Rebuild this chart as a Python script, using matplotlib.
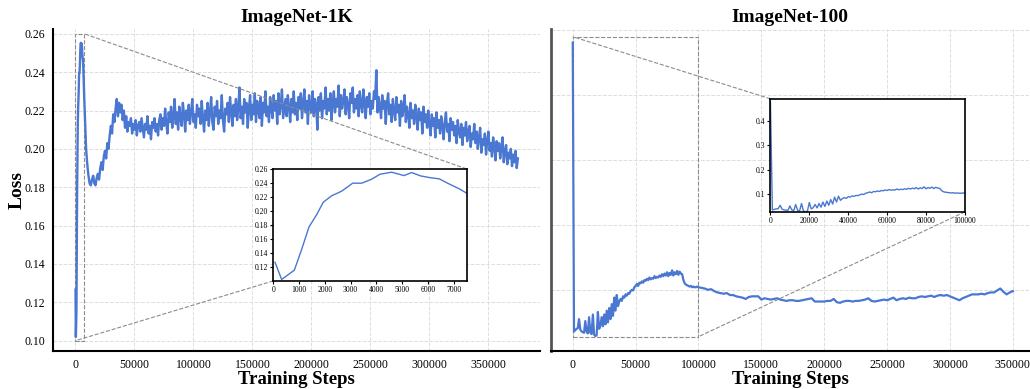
import numpy as np
import matplotlib
matplotlib.use("Agg")
import matplotlib.pyplot as plt
from mpl_toolkits.axes_grid1.inset_locator import mark_inset

plt.rcParams["font.family"] = ["Liberation Serif", "DejaVu Serif"]

BLUE = "#4a77d1"

# ImageNet-1K: early warm-up segment (shown zoomed in the inset)
steps_1k_early = [65, 323, 815, 1100, 1384, 1680, 1940, 2264, 2652, 3079, 3428,
                  3816, 4140, 4592, 5071, 5369, 5718, 6054, 6442, 6791, 7244, 7503]
loss_1k_early = [0.1266, 0.102, 0.1153, 0.145, 0.177, 0.1945, 0.2125, 0.2216,
                 0.2282, 0.2396, 0.2396, 0.2453, 0.2524, 0.2553, 0.2505, 0.2548,
                 0.250, 0.2477, 0.2458, 0.2391, 0.2311, 0.2253]

# ImageNet-1K: rest of training, logged every 1000 steps from 9000
start_1k, every_1k = 9000, 1000
loss_1k_rest = [
    0.200, 0.192, 0.186, 0.182, 0.181, 0.184, 0.186, 0.182, 0.181, 0.185,
    0.187, 0.184, 0.190, 0.193, 0.189, 0.196, 0.199, 0.195, 0.203, 0.200,
    0.207, 0.212, 0.208, 0.218, 0.214, 0.221, 0.226, 0.217, 0.224, 0.219,
    0.223, 0.215, 0.220, 0.211, 0.217, 0.209, 0.214, 0.212, 0.216, 0.208,
    0.213, 0.210, 0.215, 0.207, 0.212, 0.214, 0.209, 0.216, 0.211, 0.206,
    0.213, 0.210, 0.217, 0.208, 0.212, 0.205, 0.214, 0.211, 0.216, 0.209,
    0.213, 0.207, 0.215, 0.218, 0.210, 0.216, 0.212, 0.221, 0.213, 0.208,
    0.219, 0.214, 0.222, 0.211, 0.217, 0.226, 0.213, 0.219, 0.210, 0.222,
    0.216, 0.212, 0.224, 0.218, 0.209, 0.220, 0.215, 0.223, 0.213, 0.219,
    0.226, 0.214, 0.218, 0.211, 0.223, 0.217, 0.221, 0.213, 0.225, 0.216,
    0.209, 0.220, 0.215, 0.224, 0.212, 0.219, 0.227, 0.214, 0.210, 0.222,
    0.217, 0.225, 0.213, 0.220, 0.216, 0.228, 0.215, 0.209, 0.221, 0.218,
    0.224, 0.214, 0.227, 0.219, 0.212, 0.223, 0.217, 0.226, 0.215, 0.221,
    0.232, 0.216, 0.222, 0.213, 0.226, 0.219, 0.224, 0.211, 0.221, 0.228,
    0.215, 0.223, 0.218, 0.229, 0.214, 0.225, 0.220, 0.216, 0.227, 0.212,
    0.224, 0.219, 0.230, 0.217, 0.222, 0.214, 0.227, 0.221, 0.216, 0.228,
    0.220, 0.225, 0.213, 0.229, 0.218, 0.223, 0.231, 0.216, 0.221, 0.226,
    0.217, 0.228, 0.222, 0.214, 0.226, 0.219, 0.230, 0.218, 0.224, 0.215,
    0.227, 0.221, 0.229, 0.216, 0.224, 0.231, 0.219, 0.225, 0.213, 0.228,
    0.222, 0.219, 0.230, 0.217, 0.226, 0.223, 0.210, 0.227, 0.220, 0.229,
    0.216, 0.225, 0.221, 0.232, 0.218, 0.226, 0.220, 0.229, 0.215, 0.224,
    0.230, 0.219, 0.226, 0.222, 0.233, 0.217, 0.228, 0.221, 0.225, 0.231,
    0.218, 0.227, 0.223, 0.216, 0.229, 0.224, 0.232, 0.219, 0.226, 0.221,
    0.228, 0.217, 0.230, 0.223, 0.219, 0.231, 0.224, 0.216, 0.227, 0.222,
    0.229, 0.218, 0.225, 0.221, 0.230, 0.226, 0.241, 0.219, 0.227, 0.222,
    0.216, 0.228, 0.221, 0.225, 0.213, 0.224, 0.229, 0.218, 0.223, 0.214,
    0.226, 0.220, 0.215, 0.227, 0.219, 0.223, 0.212, 0.225, 0.217, 0.221,
    0.228, 0.214, 0.222, 0.218, 0.211, 0.224, 0.216, 0.220, 0.213, 0.223,
    0.217, 0.210, 0.221, 0.215, 0.219, 0.208, 0.222, 0.214, 0.218, 0.211,
    0.220, 0.213, 0.207, 0.218, 0.212, 0.216, 0.206, 0.219, 0.211, 0.215,
    0.208, 0.217, 0.212, 0.205, 0.214, 0.219, 0.209, 0.213, 0.204, 0.216,
    0.210, 0.214, 0.207, 0.212, 0.203, 0.215, 0.209, 0.206, 0.213, 0.202,
    0.211, 0.207, 0.214, 0.204, 0.209, 0.212, 0.201, 0.208, 0.205, 0.213,
    0.203, 0.209, 0.200, 0.206, 0.211, 0.198, 0.205, 0.202, 0.208, 0.197,
    0.204, 0.209, 0.199, 0.203, 0.196, 0.206, 0.201, 0.194, 0.204, 0.199,
    0.203, 0.195, 0.201, 0.206, 0.193, 0.199, 0.202, 0.192, 0.198, 0.195,
    0.200, 0.191, 0.197, 0.193, 0.199, 0.190, 0.195,
]

# ImageNet-100: first 100k steps, every 1000 steps
start_100a, every_100a = 0, 1000
loss_100_early = [
    0.480, 0.036, 0.038, 0.040, 0.041, 0.055, 0.039, 0.036, 0.035, 0.034,
    0.052, 0.036, 0.033, 0.058, 0.034, 0.032, 0.062, 0.031, 0.029, 0.030,
    0.066, 0.040, 0.045, 0.058, 0.044, 0.062, 0.047, 0.068, 0.050, 0.072,
    0.055, 0.078, 0.060, 0.088, 0.068, 0.092, 0.075, 0.082, 0.086, 0.083,
    0.090, 0.088, 0.093, 0.091, 0.095, 0.094, 0.098, 0.100, 0.099, 0.104,
    0.106, 0.109, 0.106, 0.111, 0.110, 0.113, 0.111, 0.115, 0.114, 0.117,
    0.115, 0.119, 0.116, 0.118, 0.117, 0.121, 0.118, 0.120, 0.119, 0.122,
    0.120, 0.124, 0.121, 0.125, 0.122, 0.127, 0.121, 0.126, 0.123, 0.130,
    0.122, 0.127, 0.124, 0.129, 0.123, 0.128, 0.125, 0.124, 0.115, 0.110,
    0.108, 0.107, 0.106, 0.105, 0.106, 0.104, 0.105, 0.104, 0.104, 0.105,
    0.104,
]

# ImageNet-100: after 100k steps, every 2500 steps
start_100b, every_100b = 102500, 2500
loss_100_late = [
    0.103, 0.102, 0.100, 0.101, 0.098, 0.096, 0.095, 0.094, 0.095, 0.092,
    0.092, 0.090, 0.089, 0.088, 0.086, 0.089, 0.090, 0.090, 0.090, 0.085,
    0.087, 0.086, 0.085, 0.086, 0.087, 0.085, 0.084, 0.083, 0.084, 0.084,
    0.083, 0.083, 0.084, 0.085, 0.086, 0.087, 0.082, 0.082, 0.082, 0.082,
    0.083, 0.083, 0.086, 0.081, 0.080, 0.082, 0.083, 0.083, 0.082, 0.083,
    0.083, 0.084, 0.085, 0.087, 0.083, 0.082, 0.083, 0.084, 0.085, 0.084,
    0.086, 0.088, 0.084, 0.086, 0.087, 0.086, 0.088, 0.087, 0.087, 0.089,
    0.090, 0.089, 0.090, 0.091, 0.089, 0.091, 0.092, 0.091, 0.092, 0.090,
    0.088, 0.086, 0.084, 0.087, 0.089, 0.091, 0.093, 0.093, 0.093, 0.094,
    0.093, 0.095, 0.096, 0.096, 0.099, 0.102, 0.097, 0.093, 0.096, 0.098,
]

x_1k = np.concatenate([steps_1k_early,
                       start_1k + every_1k * np.arange(len(loss_1k_rest))])
y_1k = np.concatenate([loss_1k_early, loss_1k_rest])
x_100 = np.concatenate([start_100a + every_100a * np.arange(len(loss_100_early)),
                        start_100b + every_100b * np.arange(len(loss_100_late))])
y_100 = np.concatenate([loss_100_early, loss_100_late])


def style_main(ax):
    for s in ["top", "right"]:
        ax.spines[s].set_visible(False)
    for s in ["left", "bottom"]:
        ax.spines[s].set_linewidth(1.5)
    ax.grid(True, ls="--", lw=0.7, color="#dddddd")
    ax.set_axisbelow(True)
    ax.tick_params(labelsize=8.5, length=0, pad=6)
    ax.set_xticks(np.arange(0, 350001, 50000))
    ax.set_xlabel("Training Steps", fontsize=13.5, fontweight="bold", labelpad=0)


def style_inset(axins):
    for s in axins.spines.values():
        s.set_linewidth(1.2)
    axins.tick_params(labelsize=5.5, length=2, pad=1.5)


fig = plt.figure(figsize=(10.3, 3.89), dpi=100)

# ---- ImageNet-1K ----
ax1 = fig.add_axes([0.0518, 0.0985, 0.4725, 0.827])
ax1.plot(x_1k, y_1k, color=BLUE, lw=1.7)
ax1.set_xlim(-18750, 393750)
ax1.set_ylim(0.0948, 0.2625)
ax1.set_yticks(np.arange(0.10, 0.2601, 0.02))
ax1.yaxis.set_major_formatter(matplotlib.ticker.FormatStrFormatter("%.2f"))
style_main(ax1)
ax1.set_ylabel("Loss", fontsize=14, fontweight="bold", labelpad=-1)
ax1.set_title("ImageNet-1K", fontsize=14, fontweight="bold", pad=5)

ins1 = ax1.inset_axes([0.452, 0.217, 0.397, 0.348])
ins1.plot(x_1k, y_1k, color=BLUE, lw=1)
ins1.set_xlim(0, 7500)
ins1.set_ylim(0.10, 0.26)
ins1.set_xticks(np.arange(0, 7001, 1000))
ins1.set_yticks(np.arange(0.12, 0.2601, 0.02))
ins1.yaxis.set_major_formatter(matplotlib.ticker.FormatStrFormatter("%.2f"))
style_inset(ins1)
mark_inset(ax1, ins1, loc1=1, loc2=3, fc="none", ec="0.55", ls="--", lw=0.8)

# ---- ImageNet-100 ----
ax2 = fig.add_axes([0.535, 0.0977, 0.464, 0.828])
ax2.plot(x_100, y_100, color=BLUE, lw=1.6)
ax2.set_xlim(-17250, 362800)
ax2.set_ylim(0.006, 0.501)
ax2.set_yticks([0.1, 0.2, 0.3, 0.4, 0.5])
style_main(ax2)
ax2.tick_params(axis="y", labelleft=False)
ax2.spines["left"].set_color("#555555")
ax2.spines["left"].set_linewidth(2)
ax2.set_title("ImageNet-100", fontsize=14, fontweight="bold", pad=5)

ins2 = ax2.inset_axes([0.459, 0.432, 0.407, 0.351])
ins2.plot(x_100, y_100, color=BLUE, lw=1)
ins2.set_xlim(0, 100000)
ins2.set_ylim(0.028, 0.489)
ins2.set_xticks(np.arange(0, 100001, 20000))
ins2.set_yticks([0.1, 0.2, 0.3, 0.4])
style_inset(ins2)
mark_inset(ax2, ins2, loc1=2, loc2=4, fc="none", ec="0.55", ls="--", lw=0.8)

fig.savefig("out.png", dpi=100)
